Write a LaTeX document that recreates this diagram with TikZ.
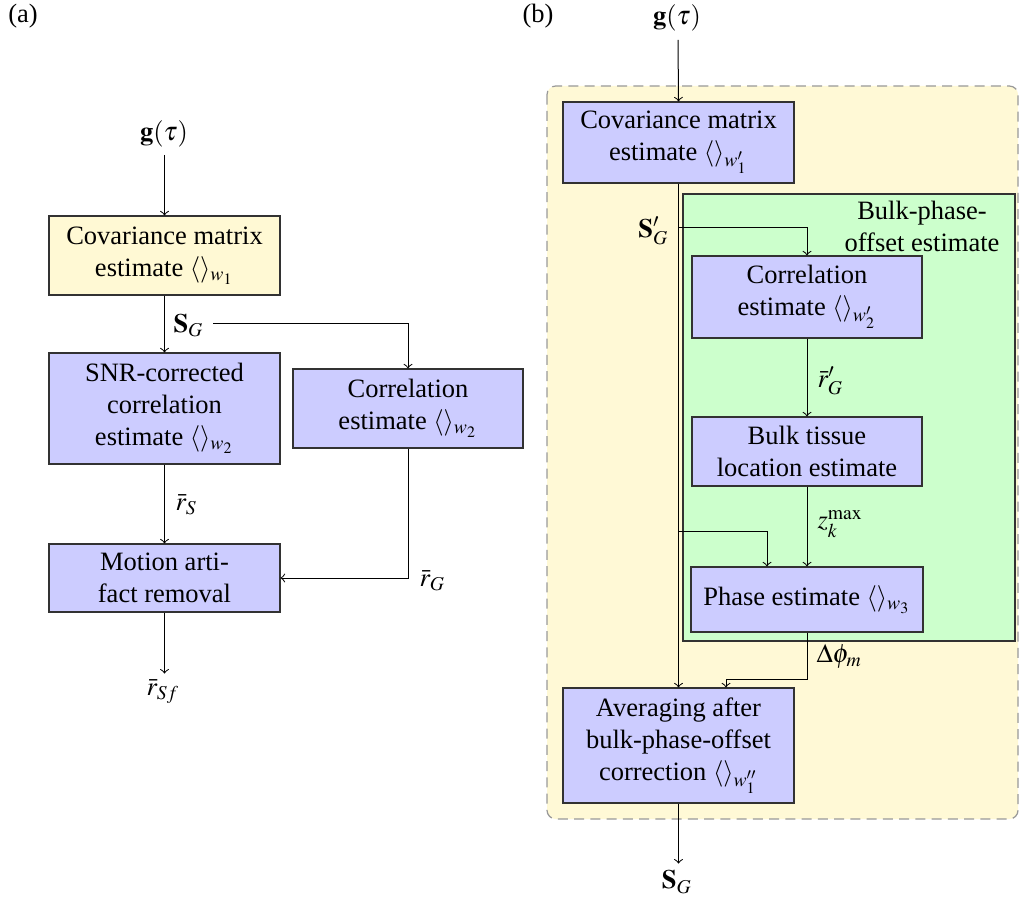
\documentclass[tikz,border=0pt]{standalone}
\usepackage{mathptmx}
\usepackage[no-math]{fontspec}
\setmainfont{Liberation Serif}
\definecolor{boxblue}{RGB}{204,204,255}
\definecolor{boxyellow}{RGB}{255,249,212}
\definecolor{bgyellow}{RGB}{255,249,214}
\definecolor{boxgreen}{RGB}{204,255,204}
\definecolor{edge}{RGB}{50,50,50}
\begin{document}
\begin{tikzpicture}[x=0.4pt,y=-0.4pt,
  every node/.style={font=\fontsize{10.6pt}{12.8pt}\selectfont},
  box/.style={draw=edge, align=center, inner sep=0pt, line width=0.45pt, minimum width=92.4pt},
  bluebox/.style={box, fill=boxblue},
  lbl/.style={inner sep=0pt},
  conn/.style={->, line width=0.4pt},
  line/.style={line width=0.4pt}]
\useasboundingbox (0,0) rectangle (1025,898);
% ---------------- panel (a)
\node[lbl] (pa) at (23,16) {(a)};
\node[lbl] (gA) at (164,134) {$\mathbf{g}(\tau)$};
\node[box, fill=boxyellow, minimum height=31.6pt] (covA) at (164.5,255.5) {Covariance matrix\\estimate $\langle\rangle_{w_1}$};
\node[bluebox, minimum height=44.4pt] (snrA) at (164.5,408.5) {SNR-corrected\\correlation\\estimate $\langle\rangle_{w_2}$};
\node[bluebox, minimum width=92pt, minimum height=31.6pt] (corrA) at (408,408.5) {Correlation\\estimate $\langle\rangle_{w_2}$};
\node[bluebox, minimum height=27.2pt] (motA) at (164.5,578) {Motion arti-\\fact removal};
\node[lbl] (rsfA) at (163,692) {$\bar{r}_{Sf}$};
\node[lbl, anchor=west] (sgA) at (173,326) {$\mathbf{S}_G$};
\node[lbl, anchor=west] (rsA) at (175,505) {$\bar{r}_S$};
\node[lbl, anchor=west] (rgA) at (419,581) {$\bar{r}_G$};
\coordinate (gAs) at (164.5,155);
\coordinate (sgAs) at (213,324);
\draw[conn] (gAs) -- (covA.north);
\draw[conn] (covA.south) -- (snrA.north);
\draw[conn] (snrA.south) -- (motA.north);
\draw[conn] (motA.south) -- ++(0,61);
\draw[conn] (sgAs) -| (corrA.north);
\draw[conn] (corrA.south) |- (motA.east);
% ---------------- panel (b)
\node[lbl] (pb) at (538,16) {(b)};
\node[lbl] (gB) at (677,18) {$\mathbf{g}(\tau)$};
\draw[dashed, draw=black!40, fill=bgyellow, rounded corners=3.5pt, line width=0.5pt, dash pattern=on 4pt off 2.5pt] (547,86) rectangle (1018,819);
\draw[draw=edge, fill=boxgreen, line width=0.45pt] (683,194) rectangle (1015,641);
\node[lbl, align=center] (bpo) at (922,226) {Bulk-phase-\\offset estimate};
\node[bluebox, minimum height=32.4pt] (covB) at (678.5,142.5) {Covariance matrix\\estimate $\langle\rangle_{w'_1}$};
\node[bluebox, minimum width=92pt, minimum height=32.8pt] (corrB) at (807,297) {Correlation\\estimate $\langle\rangle_{w'_2}$};
\node[bluebox, minimum width=92pt, minimum height=27.6pt] (bulkB) at (807,451.5) {Bulk tissue\\location estimate};
\node[bluebox, minimum width=92.8pt, minimum height=26pt] (phB) at (807,599.5) {Phase estimate $\langle\rangle_{w_3}$};
\node[bluebox, minimum height=46pt] (avgB) at (678.5,745.5) {Averaging after\\bulk-phase-offset\\correction $\langle\rangle_{w''_1}$};
\node[lbl, anchor=east] (sgpB) at (669,231) {$\mathbf{S}'_G$};
\node[lbl, anchor=west] (rgpB) at (817,381) {$\bar{r}'_G$};
\node[lbl, anchor=west] (zkB) at (817,524) {$z_k^{\max}$};
\node[lbl, anchor=west] (dphB) at (816,656) {$\Delta\phi_m$};
\node[lbl] (sgB) at (677,882) {$\mathbf{S}_G$};
\coordinate (gBs) at (678,40);
\coordinate (s1) at (678,228);
\coordinate (s2) at (678,531);
\draw[conn] (gBs) -- (covB.north);
\draw[conn] (covB.south) -- (covB.south |- avgB.north);
\draw[conn] (s1) -| (corrB.north);
\draw[conn] (s2) -| ([xshift=-16pt]phB.north);
\draw[conn] (corrB.south) -- (bulkB.north);
\draw[conn] (bulkB.south) -- (phB.north);
\draw[conn] (phB.south) -- ++(0,47) -| ([xshift=19pt]avgB.north);
\draw[conn] (avgB.south) -- ++(0,60);
\end{tikzpicture}
\end{document}
